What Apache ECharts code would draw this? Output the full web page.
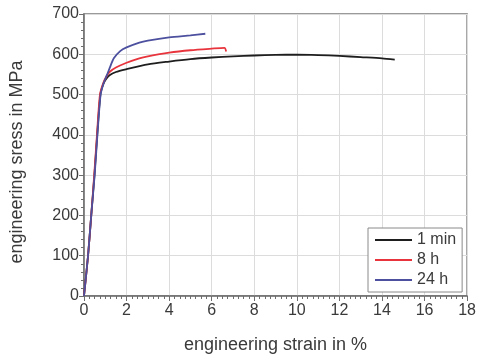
<!DOCTYPE html>
<html>
<head>
<meta charset="utf-8">
<script src="https://cdn.jsdelivr.net/npm/echarts@6/dist/echarts.min.js"></script>
<style>
  html, body { margin: 0; padding: 0; background: #fff; }
  #chart { width: 479px; height: 359px; }
</style>
</head>
<body>
<div id="chart"></div>
<script>
// tensile curves, strain in %, stress in MPa
const seriesNames = ['1 min', '8 h', '24 h'];
const seriesColors = ['#1e1e1e', '#e8343c', '#4c509e'];

const strain1min = [0, 0.19, 0.34, 0.49, 0.62, 0.77, 0.9, 1.03, 1.2, 1.5, 2, 3, 4, 5, 6, 7, 8, 9, 10, 11, 12, 13, 14, 14.6];
const stress1min = [0, 100, 200, 300, 400, 500, 525, 538, 548, 556, 563, 575, 582, 588, 592, 595, 597, 598.5, 599, 598, 596, 593, 590, 587];

const strain8h = [0, 0.19, 0.34, 0.48, 0.61, 0.75, 0.9, 1.05, 1.2, 1.5, 2, 2.6, 3, 4, 5, 6, 6.6, 6.68];
const stress8h = [0, 100, 200, 300, 400, 500, 528, 545, 556, 567, 579, 590, 595, 604, 610, 614, 616, 607];

const strain24h = [0, 0.19, 0.34, 0.5, 0.63, 0.78, 0.92, 1.05, 1.2, 1.4, 1.7, 2, 2.6, 3, 4, 5, 5.7];
const stress24h = [0, 100, 200, 300, 400, 500, 528, 545, 565, 590, 608, 617, 629, 634, 642, 647, 651];

const xMin = 0, xMax = 18, xStep = 2;
const yMin = 0, yMax = 700, yStep = 100;

function pairs(xs, ys) {
  return xs.map((x, i) => [x, ys[i]]);
}

const curves = [
  pairs(strain1min, stress1min),
  pairs(strain8h, stress8h),
  pairs(strain24h, stress24h)
];

const chart = echarts.init(document.getElementById('chart'), null, { renderer: 'canvas' });

const textColor = '#3a3a3a';
const axisColor = '#6e6e6e';

const option = {
  animation: false,
  textStyle: { fontFamily: 'Liberation Sans, Arial, sans-serif' },
  grid: {
    left: 84, right: 9, top: 14, bottom: 61,
    show: true,
    borderColor: '#7a7a7a',
    borderWidth: 1.5
  },
  legend: {
    orient: 'vertical',
    left: 368,
    top: 228,
    padding: [4, 6, 4, 7],
    itemGap: 4,
    itemWidth: 37,
    itemHeight: 2,
    itemTextGap: 4,
    icon: 'rect',
    backgroundColor: '#fff',
    borderColor: '#8a8a8a',
    borderWidth: 1,
    borderRadius: 0,
    data: seriesNames,
    textStyle: { fontSize: 16, color: textColor, fontFamily: 'Liberation Sans, Arial, sans-serif' }
  },
  xAxis: {
    type: 'value',
    min: xMin, max: xMax, interval: xStep,
    name: 'engineering strain in %',
    nameLocation: 'middle',
    nameGap: 40,
    nameTextStyle: { fontSize: 18, color: textColor },
    axisLine: { show: true, lineStyle: { color: axisColor, width: 1.5 } },
    axisTick: { show: true, inside: false, length: 5, lineStyle: { color: axisColor } },
    minorTick: { show: true, splitNumber: 8, length: 3, lineStyle: { color: axisColor } },
    axisLabel: { fontSize: 16, color: textColor, margin: 7 },
    splitLine: { show: true, lineStyle: { color: '#dcdcdc', width: 1 } }
  },
  yAxis: {
    type: 'value',
    min: yMin, max: yMax, interval: yStep,
    name: 'engineering sress in MPa',
    nameLocation: 'middle',
    nameGap: 58,
    nameTextStyle: { fontSize: 18, color: textColor, padding: [0, 14, 0, 0] },
    axisLine: { show: true, lineStyle: { color: axisColor, width: 1.5 } },
    axisTick: { show: true, inside: false, length: 5, lineStyle: { color: axisColor } },
    minorTick: { show: true, splitNumber: 5, length: 3, lineStyle: { color: axisColor } },
    axisLabel: { fontSize: 16, color: textColor, margin: 5 },
    splitLine: { show: true, lineStyle: { color: '#dcdcdc', width: 1 } }
  },
  series: curves.map((data, i) => ({
    name: seriesNames[i],
    type: 'line',
    data: data,
    symbol: 'none',
    smooth: 0.25,
    color: seriesColors[i],
    lineStyle: { color: seriesColors[i], width: 1.8 }
  }))
};

chart.setOption(option);
</script>
</body>
</html>
